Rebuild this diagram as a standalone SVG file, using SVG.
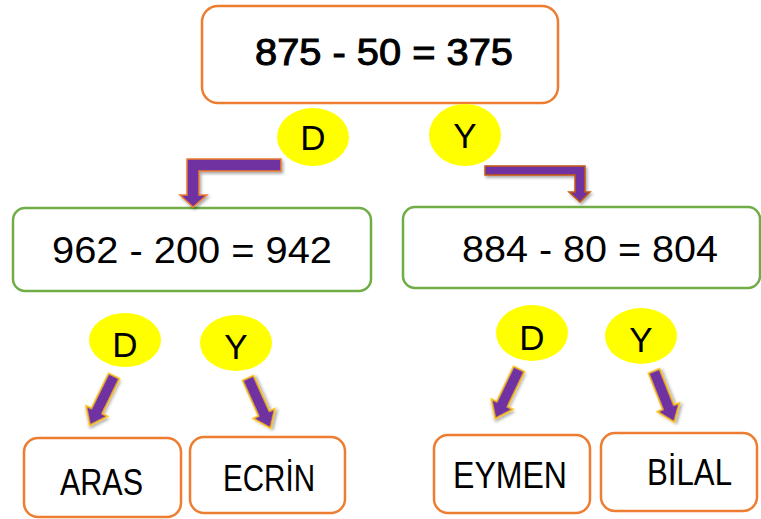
<svg xmlns="http://www.w3.org/2000/svg" width="761" height="519" viewBox="0 0 761 519">
<style>
.ob{fill:#fff;stroke:#ED7D31;stroke-width:2.5}
.gb{fill:#fff;stroke:#70AD47;stroke-width:2.5}
.t{font-family:"Liberation Sans","DejaVu Sans",sans-serif;font-size:37px;fill:#000}
.tb{stroke:#000;stroke-width:1}
.el{fill:#FFFF00}
.lt{font-family:"Liberation Sans","DejaVu Sans",sans-serif;font-size:35px;fill:#000;text-anchor:middle}
.ar{fill:#7030A0;stroke:#FFC000;stroke-width:1.5;stroke-linejoin:miter;filter:url(#sh)}
</style>
<defs>
<filter id="sh" x="-50%" y="-50%" width="200%" height="200%">
<feDropShadow dx="1.5" dy="2" stdDeviation="1.5" flood-color="#000" flood-opacity="0.35"/>
</filter>
<path id="da" d="M-6,0 L6,0 L6,39 L12,39 L0,55 L-12,39 L-6,39 Z"/>
</defs>
<g id="top">
<rect class="ob" x="202" y="6" width="356" height="97" rx="16"/>
<text class="t tb" x="255" y="65" textLength="258" lengthAdjust="spacingAndGlyphs">875 - 50 = 375</text>
</g>
<g id="left">
<rect class="gb" x="13" y="208" width="358" height="83" rx="12"/>
<text class="t" x="52" y="263" textLength="280" lengthAdjust="spacingAndGlyphs">962 - 200 = 942</text>
</g>
<g id="right">
<rect class="gb" x="403" y="207" width="357" height="81" rx="12"/>
<text class="t" x="462" y="262" textLength="256" lengthAdjust="spacingAndGlyphs">884 - 80 = 804</text>
</g>
<g id="aras">
<rect class="ob" x="24" y="438" width="157" height="79" rx="14"/>
<text class="t" x="60" y="495" textLength="83" lengthAdjust="spacingAndGlyphs" style="font-size:36px">ARAS</text>
</g>
<g id="ecrin">
<rect class="ob" x="190" y="437" width="155" height="76" rx="14"/>
<text class="t" x="223" y="491" textLength="92" lengthAdjust="spacingAndGlyphs" style="font-size:36px">ECRİN</text>
</g>
<g id="eymen">
<rect class="ob" x="434" y="435" width="156" height="78" rx="14"/>
<text class="t" x="453" y="488" textLength="114" lengthAdjust="spacingAndGlyphs" style="font-size:36px">EYMEN</text>
</g>
<g id="bilal">
<rect class="ob" x="601" y="433" width="156" height="78" rx="14"/>
<text class="t" x="647" y="485" textLength="85" lengthAdjust="spacingAndGlyphs" style="font-size:36px">BİLAL</text>
</g>
<g id="d1"><ellipse class="el" cx="313" cy="137" rx="36" ry="29"/><text class="lt" x="313" y="150">D</text></g>
<g id="y1"><ellipse class="el" cx="465" cy="135" rx="36" ry="31"/><text class="lt" x="465" y="148">Y</text></g>
<g id="d2"><ellipse class="el" cx="125" cy="340" rx="36" ry="27"/><text class="lt" x="125" y="357">D</text></g>
<g id="y2"><ellipse class="el" cx="236" cy="343" rx="36" ry="28"/><text class="lt" x="236" y="359">Y</text></g>
<g id="d3"><ellipse class="el" cx="532" cy="333" rx="36" ry="28"/><text class="lt" x="532" y="350">D</text></g>
<g id="y3"><ellipse class="el" cx="641" cy="336" rx="36" ry="28"/><text class="lt" x="641" y="352">Y</text></g>
<g id="connectors">
<polygon class="ar" style="stroke:#ED7D31" points="281,159 187,159 187,195 180,195 193,207 207,195 199,195 199,171 281,171"/>
<polygon class="ar" style="stroke:#C55A11" points="485,166 585,166 585,192 590,192 580,202 569,192 575,192 575,175 485,175"/>
<use href="#da" class="ar" transform="translate(114,376) rotate(26.1)"/>
<use href="#da" class="ar" transform="translate(248,378) rotate(-24.2)"/>
<use href="#da" class="ar" transform="translate(519,369) rotate(25.6)"/>
<use href="#da" class="ar" transform="translate(654,371) rotate(-21.6)"/>
</g>
</svg>
